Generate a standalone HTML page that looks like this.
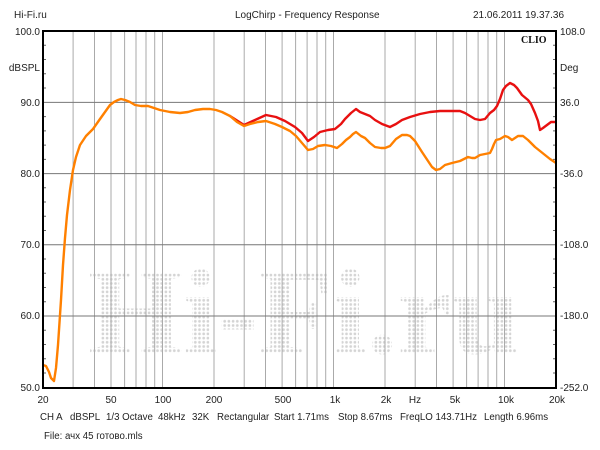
<!DOCTYPE html>
<html><head><meta charset="utf-8"><style>
html,body{margin:0;padding:0;background:#fff;}
svg{display:block;font-family:"Liberation Sans","Noto Sans CJK SC",sans-serif;}
</style></head><body>
<svg width="600" height="450" viewBox="0 0 600 450" xmlns="http://www.w3.org/2000/svg">
<defs>
<pattern id="dots" x="0" y="0" width="4.2" height="4.2" patternUnits="userSpaceOnUse">
<circle cx="2.1" cy="2.1" r="1.35" fill="#d4d4d4"/></pattern>
<clipPath id="pc"><rect x="43" y="31" width="513" height="357"/></clipPath>
</defs>
<rect width="600" height="450" fill="#fff"/>
<g font-size="10" fill="#222">
<text x="14" y="18">Hi-Fi.ru</text>
<text x="235" y="18">LogChirp - Frequency Response</text>
<text x="473" y="18">21.06.2011 19.37.36</text>
</g>
<!-- watermark -->
<text x="88" y="353" font-family="Liberation Serif,serif" font-weight="bold" font-size="122" textLength="432" lengthAdjust="spacingAndGlyphs" fill="url(#dots)">Hi-Fi.ru</text>
<!-- grid -->
<g stroke-width="1">
<g stroke="#aaa">
<line x1="73.1" y1="31" x2="73.1" y2="388"/><line x1="94.5" y1="31" x2="94.5" y2="388"/><line x1="111" y1="31" x2="111" y2="388"/><line x1="124.6" y1="31" x2="124.6" y2="388"/><line x1="136" y1="31" x2="136" y2="388"/><line x1="146" y1="31" x2="146" y2="388"/><line x1="154.7" y1="31" x2="154.7" y2="388"/><line x1="162.5" y1="31" x2="162.5" y2="388"/>
<line x1="214" y1="31" x2="214" y2="388"/><line x1="244.2" y1="31" x2="244.2" y2="388"/><line x1="265.5" y1="31" x2="265.5" y2="388"/><line x1="282.1" y1="31" x2="282.1" y2="388"/><line x1="295.6" y1="31" x2="295.6" y2="388"/><line x1="307.1" y1="31" x2="307.1" y2="388"/><line x1="317" y1="31" x2="317" y2="388"/><line x1="325.7" y1="31" x2="325.7" y2="388"/><line x1="333.5" y1="31" x2="333.5" y2="388"/>
<line x1="385" y1="31" x2="385" y2="388"/><line x1="415.2" y1="31" x2="415.2" y2="388"/><line x1="436.5" y1="31" x2="436.5" y2="388"/><line x1="453.1" y1="31" x2="453.1" y2="388"/><line x1="466.6" y1="31" x2="466.6" y2="388"/><line x1="478.1" y1="31" x2="478.1" y2="388"/><line x1="488" y1="31" x2="488" y2="388"/><line x1="496.7" y1="31" x2="496.7" y2="388"/><line x1="504.5" y1="31" x2="504.5" y2="388"/>
</g>
<g stroke="#777">
<line x1="43" y1="102.4" x2="556" y2="102.4"/><line x1="43" y1="173.6" x2="556" y2="173.6"/><line x1="43" y1="244.8" x2="556" y2="244.8"/><line x1="43" y1="316" x2="556" y2="316"/>
</g>
</g>
<!-- minor ticks -->
<g stroke="#666" stroke-width="1">
<path d="M43 45.2h3M43 59.5h3M43 73.7h3M43 88h3M43 116.6h3M43 130.9h3M43 145.1h3M43 159.4h3M43 187.8h3M43 202h3M43 216.3h3M43 230.5h3M43 259h3M43 273.3h3M43 287.5h3M43 301.8h3M43 330.2h3M43 344.5h3M43 358.7h3M43 373h3"/>
<path d="M556 45.2h-3M556 59.5h-3M556 73.7h-3M556 88h-3M556 116.6h-3M556 130.9h-3M556 145.1h-3M556 159.4h-3M556 187.8h-3M556 202h-3M556 216.3h-3M556 230.5h-3M556 259h-3M556 273.3h-3M556 287.5h-3M556 301.8h-3M556 330.2h-3M556 344.5h-3M556 358.7h-3M556 373h-3"/>
</g>
<!-- curves -->
<g clip-path="url(#pc)" fill="none" stroke-width="2.4" stroke-linejoin="round" stroke-linecap="round">
<polyline stroke="#e81010" points="230,116 244,125 255,120 266,115 276,117 285,121 295,127 302,133 308,141 314,137 320,132 328,130 335,129 341,124 345,119 351,113 356,109 360,112 365,114 370,116 375,120 382,124 390,127 396,124 402,120 410,117 420,114 430,112 440,111 450,111 460,111 465,113 470,116 475,119 480,120 485,119 490,113 494,110 497,106 500,99 503,90 506,86 510,83 514,85 517,88 522,95 528,100 531,104 535,113 538,121 540,130 543,128 547,125 551,122 556,122"/>
<polyline stroke="#ff8000" points="43,365 46,366 49,372 51,378 54,381 56,368 58,345 61,300 63,265 65,238 67,215 70,190 73,170 76,157 80,145 86,136 93,129 100,119 105,112 110,105 114,102 118,100 121,99 125,100 130,102 135,105 141,106 148,106 154,108 160,110 170,112 180,113 188,112 195,110 203,109 210,109 216,110 222,112 230,116 237,122 244,126 250,124 258,122 266,121 275,124 282,127 290,131 296,136 302,143 308,150 313,149 318,146 325,145 331,146 337,148 342,144 346,140 350,137 353,134 356,132 361,136 365,138 370,143 375,147 381,148 385,148 390,146 396,139 402,135 407,135 410,136 415,141 422,152 428,161 432,167 436,170 440,169 445,165 452,163 460,161 464,159 468,157 472,158 475,158 480,155 485,154 490,153 492,149 494,144 496,140 500,139 505,136 508,137 512,140 515,138 518,136 523,136 528,140 532,144 535,147 540,151 545,155 550,159 556,163"/>
</g>
<!-- frame -->
<rect x="43" y="31" width="513" height="357" fill="none" stroke="#000" stroke-width="2"/>
<text x="521" y="43" font-family="Liberation Serif,serif" font-weight="bold" font-size="10" fill="#111">CLIO</text>
<!-- y labels -->
<g font-size="10" fill="#222">
<text x="40" y="35" text-anchor="end">100.0</text>
<text x="40" y="71" text-anchor="end">dBSPL</text>
<text x="40" y="106" text-anchor="end">90.0</text>
<text x="40" y="177" text-anchor="end">80.0</text>
<text x="40" y="248" text-anchor="end">70.0</text>
<text x="40" y="319" text-anchor="end">60.0</text>
<text x="40" y="391" text-anchor="end">50.0</text>
<text x="560" y="35">108.0</text>
<text x="560" y="71">Deg</text>
<text x="560" y="106">36.0</text>
<text x="560" y="177">-36.0</text>
<text x="560" y="248">-108.0</text>
<text x="560" y="319">-180.0</text>
<text x="560" y="391">-252.0</text>
</g>
<!-- x labels -->
<g font-size="10" fill="#222" text-anchor="middle">
<text x="43" y="403">20</text><text x="111" y="403">50</text><text x="163" y="403">100</text><text x="214" y="403">200</text><text x="283" y="403">500</text><text x="335" y="403">1k</text><text x="386" y="403">2k</text><text x="415" y="403">Hz</text><text x="455" y="403">5k</text><text x="506" y="403">10k</text><text x="557" y="403">20k</text>
</g>
<g font-size="9.7" fill="#222">
<text x="40" y="420">CH A</text><text x="70" y="420">dBSPL</text><text x="106" y="420">1/3 Octave</text><text x="158" y="420">48kHz</text><text x="192" y="420">32K</text><text x="217" y="420">Rectangular</text><text x="274" y="420">Start 1.71ms</text><text x="338" y="420">Stop 8.67ms</text><text x="400" y="420">FreqLO 143.71Hz</text><text x="484" y="420">Length 6.96ms</text>
<text x="44" y="439">File: ачх 45 готово.mls</text>
</g>
</svg>
</body></html>
